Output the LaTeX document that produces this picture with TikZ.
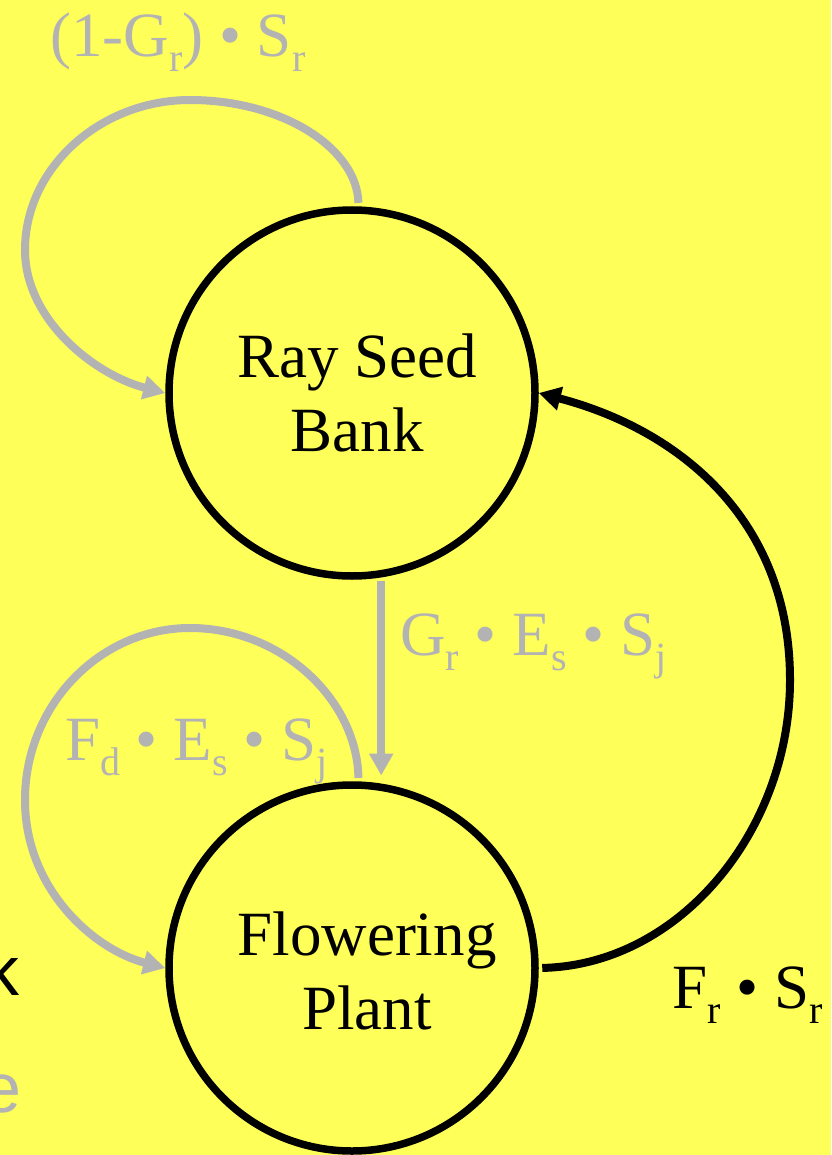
\documentclass[tikz,border=0pt]{standalone}
\usepackage{fontspec}
\setmainfont{Liberation Serif}
\newfontfamily\arialf{Liberation Sans}
\usetikzlibrary{arrows.meta}
\definecolor{bgyellow}{HTML}{FFFF59}
\definecolor{lgray}{HTML}{B3B3B3}
\newcommand{\lsub}[1]{\raisebox{-15pt}{\fontsize{40}{40}\selectfont #1}}
\begin{document}
\begin{tikzpicture}[x=1pt,y=-1pt,
  state/.style={circle,draw=black,line width=7.5pt,minimum size=366pt,inner sep=0pt},
  statetext/.style={inner sep=0pt,align=center,font=\fontsize{63}{74}\selectfont},
  lbl/.style={inner sep=0pt,anchor=base west,font=\fontsize{63}{63}\selectfont},
  garrow/.style={draw=lgray,line width=8pt,-{Triangle[length=22pt,width=23pt]}},
  barrow/.style={draw=black,line width=8pt,-{Triangle[length=22pt,width=23pt]}},
  cut/.style={inner sep=0pt,anchor=base east,font=\arialf\fontsize{70}{70}\selectfont}]
\useasboundingbox (0,0) rectangle (831,1155);
\clip (0,0) rectangle (831,1155);
\fill[bgyellow] (0,0) rectangle (831,1155);

\node[state] (rsb) at (352,393) {};
\node[state] (fp) at (352,968) {};
\node[statetext] (rsbt) at ([xshift=5pt]rsb.center) {Ray Seed\\Bank};
\node[statetext] (fpt) at ([xshift=15pt,yshift=-3pt]fp.center) {Flowering\\Plant};

% self loop on Ray Seed Bank
\draw[garrow,shorten <=3.5pt] (rsb.88) .. controls (357,148) and (282,100) .. (190,100)
  .. controls (100,100) and (25,168) .. (25,250)
  .. controls (25,320) and (95,375) .. (rsb.west);
% self loop on Flowering Plant
\draw[garrow,shorten <=3.5pt] (fp.88) .. controls (357,700) and (282,628) .. (190,628)
  .. controls (100,628) and (25,705) .. (25,800)
  .. controls (25,890) and (95,950) .. (fp.west);
% Ray Seed Bank -> Flowering Plant
\draw[garrow,shorten <=3.5pt,shorten >=8pt] (rsb.-81) -- (fp.81);
% Flowering Plant -> Ray Seed Bank
\draw[barrow,shorten <=3.5pt] (fp.east) .. controls (680,965) and (790,830) .. (790,680)
  .. controls (790,520) and (680,430) .. (rsb.east);

\node[lbl,text=lgray] (l1) at (50,57) {(1-G\lsub{r}) • S\lsub{r}};
\node[lbl,text=lgray] (l2) at (400,655) {G\lsub{r} • E\lsub{s} • S\lsub{j}};
\node[lbl,text=lgray] (l3) at (65,760) {F\lsub{d} • E\lsub{s} • S\lsub{j}};
\node[lbl,text=black] (l4) at (672,1008) {F\lsub{r} • S\lsub{r}};

\node[cut,text=black] (ck) at (20,995) {k};
\node[cut,text=lgray] (ce) at (22,1112) {e};
\end{tikzpicture}
\end{document}
